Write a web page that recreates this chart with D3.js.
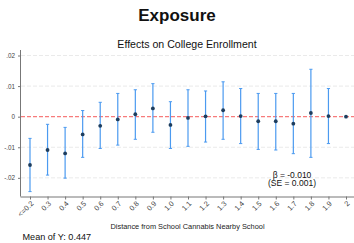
<!DOCTYPE html>
<html>
<head>
<meta charset="utf-8">
<script src="https://cdn.jsdelivr.net/npm/d3@7"></script>
<style>
  body { margin: 0; background: #fff; }
  svg { display: block; font-family: "Liberation Sans", Arial, sans-serif; }
</style>
</head>
<body>
<div id="chart"></div>
<script>
// distance bins (miles)
var categories = ["<=0.2","0.3","0.4","0.5","0.6","0.7","0.8","0.9","1.0","1.1","1.2","1.3","1.4","1.5","1.6","1.7","1.8","1.9","2"];
// point estimates
var estimates = [-0.0158,-0.0109,-0.0120,-0.0058,-0.0030,-0.0009,0.0008,0.0027,-0.0027,-0.0004,0.0001,0.0021,0.0002,-0.0015,-0.0015,-0.0023,0.0012,0.0002,0];
// 95% CI bounds
var ciHigh = [-0.0071,-0.0025,-0.0035,0.0020,0.0047,0.0076,0.0088,0.0108,0.0049,0.0088,0.0084,0.0114,0.0092,0.0076,0.0076,0.0076,0.0155,0.0092,0];
var ciLow  = [-0.0245,-0.0191,-0.0201,-0.0133,-0.0104,-0.0093,-0.0074,-0.0051,-0.0104,-0.0097,-0.0083,-0.0074,-0.0088,-0.0107,-0.0109,-0.0121,-0.0133,-0.0088,0];
var yTicks = [0.02, 0.01, 0, -0.01, -0.02];
var yTickLabels = [".02", ".01", "0", "-.01", "-.02"];

var W = 354, H = 243;
var svg = d3.select("#chart").append("svg")
    .attr("width", W).attr("height", H);

var data = categories.map(function(c, i) {
    return {cat: c, b: estimates[i], hi: ciHigh[i], lo: ciLow[i]};
});

var x = d3.scalePoint()
    .domain(categories)
    .range([30, 346]);

var y = d3.scaleLinear()
    .domain([-0.0261, 0.0218])
    .range([196.5, 50]);

// titles
svg.append("text")
    .attr("x", 177).attr("y", 21)
    .attr("text-anchor", "middle")
    .attr("font-size", 17).attr("font-weight", "bold")
    .attr("fill", "#111")
    .text("Exposure");

svg.append("text")
    .attr("x", 187).attr("y", 47.5)
    .attr("text-anchor", "middle")
    .attr("font-size", 10.6)
    .attr("fill", "#111")
    .text("Effects on College Enrollment");

// grid lines
svg.selectAll(".grid")
    .data(yTicks.filter(function(t) { return t !== 0; }))
    .enter().append("line")
    .attr("x1", 21).attr("x2", W)
    .attr("y1", function(d) { return y(d); })
    .attr("y2", function(d) { return y(d); })
    .attr("stroke", "#e4e4e4")
    .attr("stroke-width", 0.8)
    .attr("stroke-dasharray", "4,2");

// y axis
var yAxis = d3.axisLeft(y)
    .tickValues(yTicks)
    .tickSize(3)
    .tickFormat(function(d, i) { return yTickLabels[i]; });
var gy = svg.append("g")
    .attr("transform", "translate(21,0)")
    .call(yAxis);
gy.select(".domain").attr("stroke", "#777").attr("d", "M-0.5," + y.range()[0] + "V" + y.range()[1]);
gy.selectAll(".tick line").attr("stroke", "#777");
gy.selectAll("text").attr("font-size", 6.3).attr("fill", "#444")
    .attr("font-family", "Liberation Sans, Arial, sans-serif");

// x axis
var xAxis = d3.axisBottom(x).tickSize(3).tickSizeOuter(0);
var gx = svg.append("g")
    .attr("transform", "translate(0," + y.range()[0] + ")")
    .call(xAxis);
gx.select(".domain").attr("stroke", "#777").attr("d", "M20.5,0.5H" + W);
gx.selectAll(".tick line").attr("stroke", "#777");
gx.selectAll("text")
    .attr("font-size", 7.3).attr("fill", "#444")
    .attr("font-family", "Liberation Sans, Arial, sans-serif")
    .attr("text-anchor", "end")
    .attr("dy", null)
    .attr("y", 0)
    .attr("transform", "translate(3.5,7.5) rotate(-45)");

// zero reference line
svg.append("line")
    .attr("x1", 21).attr("x2", W)
    .attr("y1", y(0)).attr("y2", y(0))
    .attr("stroke", "#f77b7b")
    .attr("stroke-width", 1.1)
    .attr("stroke-dasharray", "4,2");

// confidence intervals
var ci = svg.append("g");
ci.selectAll(".ci")
    .data(data.filter(function(d) { return d.hi !== d.lo; }))
    .enter().append("line")
    .attr("x1", function(d) { return x(d.cat); })
    .attr("x2", function(d) { return x(d.cat); })
    .attr("y1", function(d) { return y(d.hi); })
    .attr("y2", function(d) { return y(d.lo); })
    .attr("stroke", "#4b9af0")
    .attr("stroke-width", 1.2);

["hi", "lo"].forEach(function(k) {
    ci.selectAll(".cap-" + k)
        .data(data.filter(function(d) { return d.hi !== d.lo; }))
        .enter().append("line")
        .attr("x1", function(d) { return x(d.cat) - 1.6; })
        .attr("x2", function(d) { return x(d.cat) + 1.6; })
        .attr("y1", function(d) { return y(d[k]); })
        .attr("y2", function(d) { return y(d[k]); })
        .attr("stroke", "#4b9af0")
        .attr("stroke-width", 1);
});

// point estimates
svg.selectAll(".pt")
    .data(data)
    .enter().append("circle")
    .attr("cx", function(d) { return x(d.cat); })
    .attr("cy", function(d) { return y(d.b); })
    .attr("r", 1.9)
    .attr("fill", "#1d3d5e");

// pooled estimate annotation
svg.append("text")
    .attr("x", 292).attr("y", 177.5)
    .attr("text-anchor", "middle")
    .attr("font-size", 8.5).attr("fill", "#111")
    .text("\u03B2 = -0.010");
svg.append("text")
    .attr("x", 292).attr("y", 186)
    .attr("text-anchor", "middle")
    .attr("font-size", 8.5).attr("fill", "#111")
    .text("(SE = 0.001)");

// axis title
svg.append("text")
    .attr("x", 187.5).attr("y", 229)
    .attr("text-anchor", "middle")
    .attr("font-size", 7.4).attr("fill", "#222")
    .text("Distance from School Cannabis Nearby School");

svg.append("text")
    .attr("x", 22.5).attr("y", 240)
    .attr("font-size", 9.1).attr("fill", "#111")
    .text("Mean of Y: 0.447");
</script>
</body>
</html>
